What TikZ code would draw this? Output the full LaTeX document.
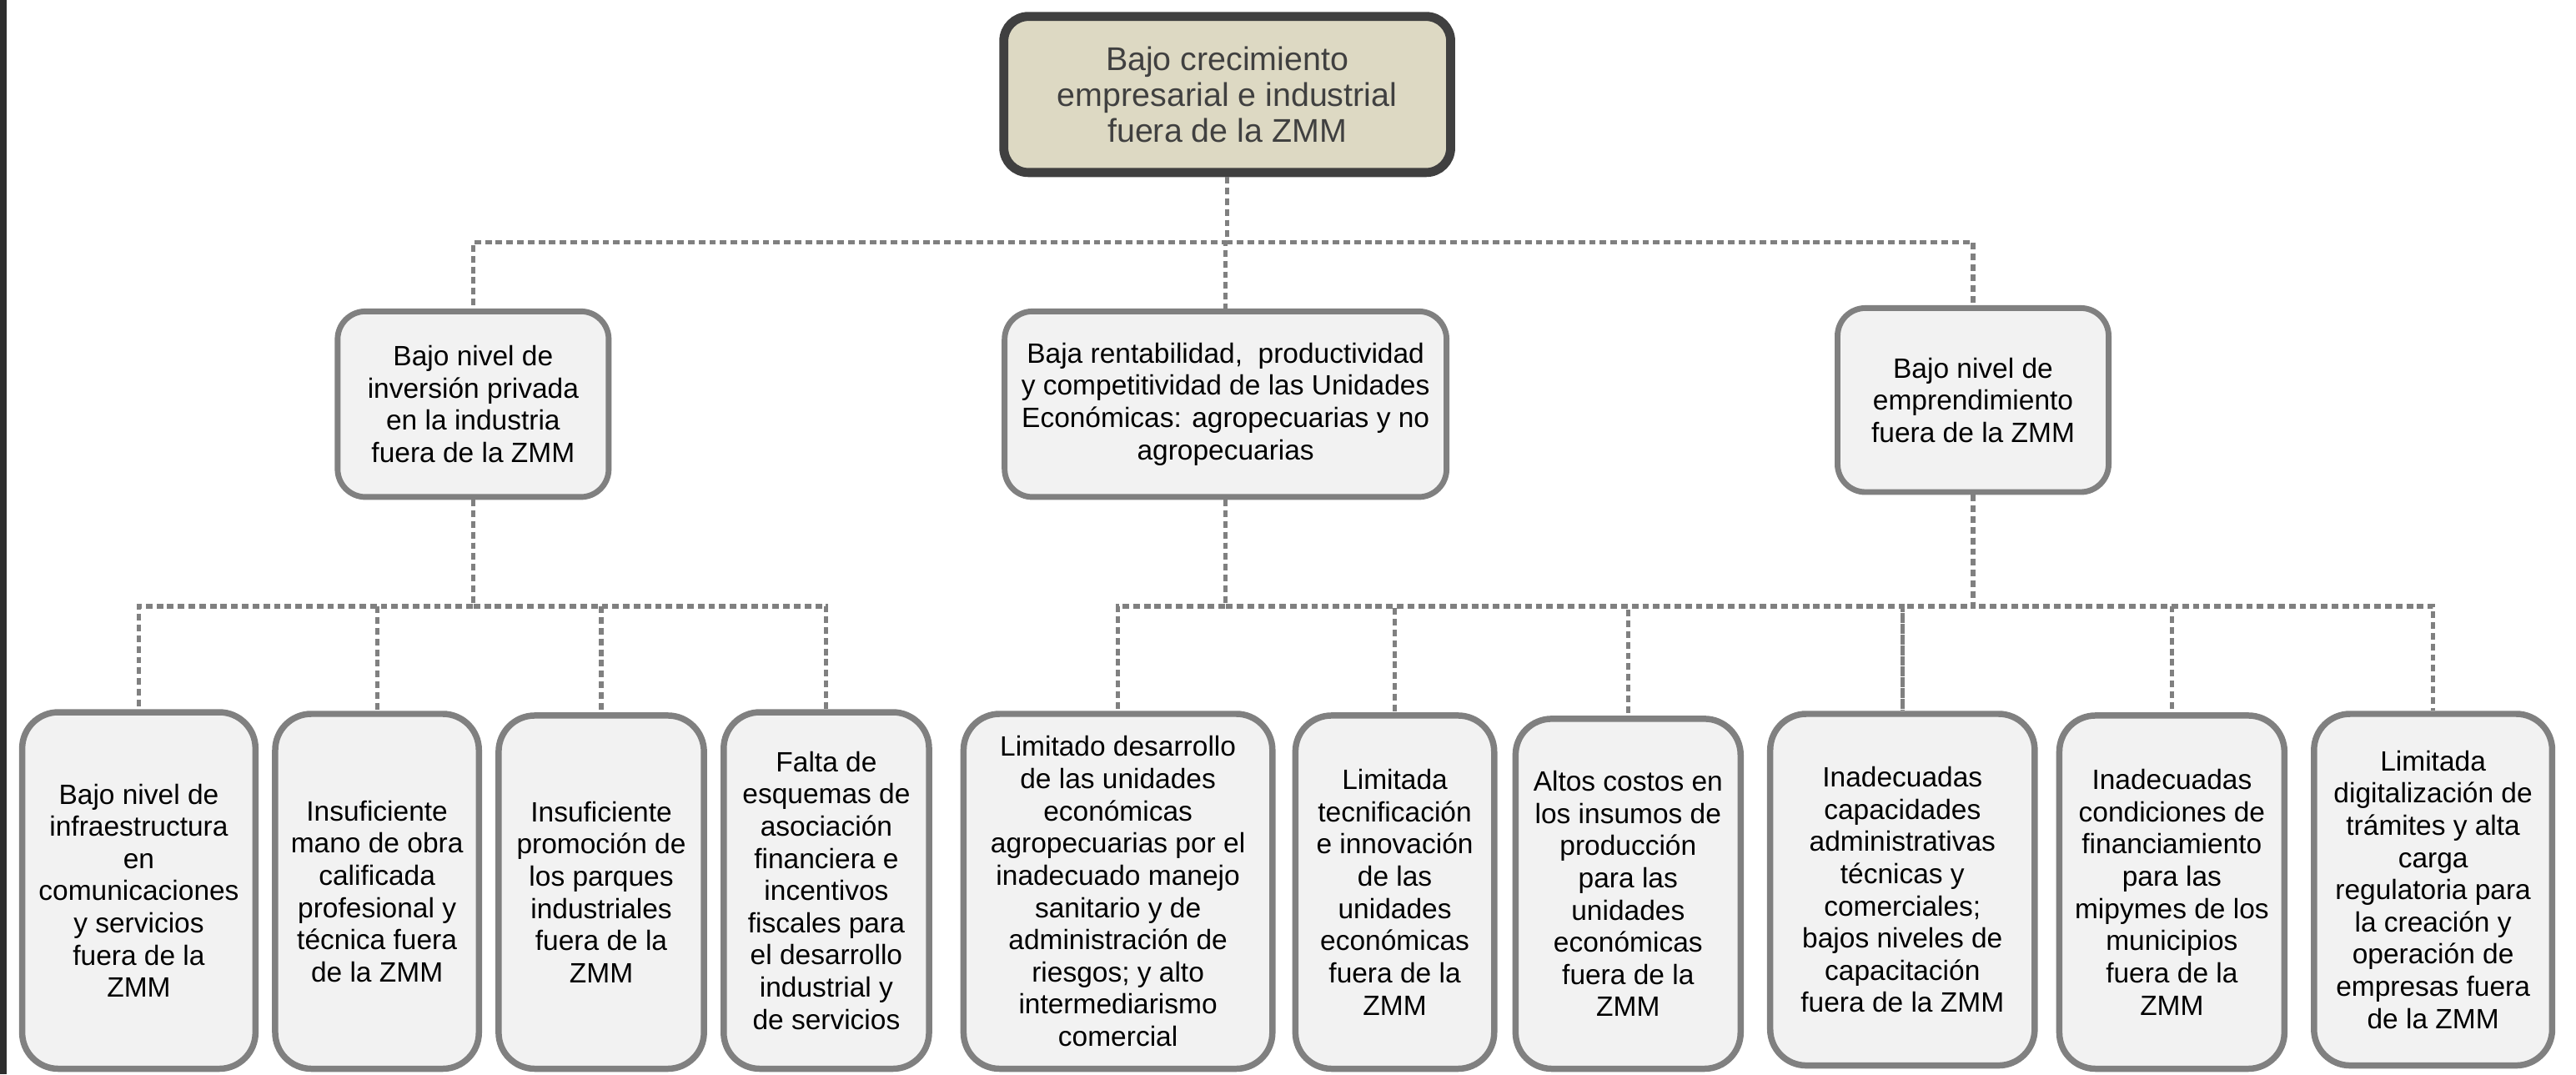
\documentclass[tikz,border=0pt]{standalone}
\usepackage{fontspec}
\setmainfont{Liberation Sans}
\definecolor{topfill}{HTML}{DDD9C3}
\definecolor{topdraw}{HTML}{404040}
\definecolor{boxfill}{HTML}{F2F2F2}
\definecolor{boxdraw}{HTML}{808080}
\definecolor{conncol}{HTML}{808080}
\definecolor{edgestrip}{HTML}{2E2E2E}
\begin{document}
\begin{tikzpicture}[x=1pt,y=1pt,
  topbox/.style={draw=topdraw, fill=topfill, line width=5.5pt, rounded corners=15pt,
    inner sep=0pt, align=center, text=topdraw,
    font=\fontsize{20}{22}\selectfont},
  midbox/.style={draw=boxdraw, fill=boxfill, line width=3.5pt, rounded corners=17pt,
    inner sep=0pt, align=center, text=black,
    font=\fontsize{17}{19.6}\selectfont},
  leafbox/.style={draw=boxdraw, fill=boxfill, line width=3.8pt, rounded corners=22pt,
    inner sep=0pt, align=center, text=black,
    font=\fontsize{17}{19.6}\selectfont},
  conn/.style={draw=conncol, line width=2.6pt, dash pattern=on 4pt off 2.5pt}
]
\useasboundingbox (0,0) rectangle (1568,-654);
\fill[white] (0,0) rectangle (1568,-654);
\fill[edgestrip] (0,0) rectangle (4,-654);

% top
\node[topbox, minimum width=272pt, minimum height=95pt] (top) at (747,-57.5)
  {Bajo crecimiento\\empresarial e industrial\\fuera de la ZMM};

% level 2
\node[midbox, minimum width=165pt, minimum height=113pt] (l2a) at (288,-246)
  {Bajo nivel de\\inversión privada\\en la industria\\fuera de la ZMM};
\node[midbox, minimum width=269pt, minimum height=113pt] (l2b) at (746,-246)
  {Baja rentabilidad,\ \ productividad\\y competitividad de las Unidades\\Económicas: agropecuarias y no\\agropecuarias};
\node[midbox, minimum width=165pt, minimum height=112pt] (l2c) at (1201,-243.5)
  {Bajo nivel de\\emprendimiento\\fuera de la ZMM};

% level 3
\node[leafbox, minimum width=142pt, minimum height=217pt] (c1) at (84.5,-542)
  {Bajo nivel de\\infraestructura\\en\\comunicaciones\\y servicios\\fuera de la\\ZMM};
\node[leafbox, minimum width=124pt, minimum height=216pt] (c2) at (229.5,-542.5)
  {Insuficiente\\mano de obra\\calificada\\profesional y\\técnica fuera\\de la ZMM};
\node[leafbox, minimum width=125pt, minimum height=215pt] (c3) at (366,-543)
  {Insuficiente\\promoción de\\los parques\\industriales\\fuera de la\\ZMM};
\node[leafbox, minimum width=125pt, minimum height=217pt] (c4) at (503,-542)
  {Falta de\\esquemas de\\asociación\\financiera e\\incentivos\\fiscales para\\el desarrollo\\industrial y\\de servicios};
\node[leafbox, minimum width=188pt, minimum height=216pt] (c5) at (680.5,-542.5)
  {Limitado desarrollo\\de las unidades\\económicas\\agropecuarias por el\\inadecuado manejo\\sanitario y de\\administración de\\riesgos; y alto\\intermediarismo\\comercial};
\node[leafbox, minimum width=121pt, minimum height=215pt] (c6) at (849,-543)
  {Limitada\\tecnificación\\e innovación\\de las\\unidades\\económicas\\fuera de la\\ZMM};
\node[leafbox, minimum width=137pt, minimum height=213pt] (c7) at (991,-544)
  {Altos costos en\\los insumos de\\producción\\para las\\unidades\\económicas\\fuera de la\\ZMM};
\node[leafbox, minimum width=161pt, minimum height=214pt] (c8) at (1158,-541.5)
  {Inadecuadas\\capacidades\\administrativas\\técnicas y\\comerciales;\\bajos niveles de\\capacitación\\fuera de la ZMM};
\node[leafbox, minimum width=137pt, minimum height=215pt] (c9) at (1322,-543)
  {Inadecuadas\\condiciones de\\financiamiento\\para las\\mipymes de los\\municipios\\fuera de la\\ZMM};
\node[leafbox, minimum width=145pt, minimum height=214pt] (c10) at (1481,-541.5)
  {Limitada\\digitalización de\\trámites y alta\\carga\\regulatoria para\\la creación y\\operación de\\empresas fuera\\de la ZMM};

% connectors
\coordinate (busA) at (0,-147.5);
\coordinate (busB) at (0,-369);
\foreach \c in {l2a,l2b,l2c}
  \draw[conn] (top.south) -- (top.south |- busA) -| (\c.north);
\foreach \c in {c1,c2,c3,c4}
  \draw[conn] (l2a.south) -- (l2a.south |- busB) -| (\c.north);
\foreach \c in {c5,c6,c7,c8}
  \draw[conn] (l2b.south) -- (l2b.south |- busB) -| (\c.north);
\foreach \c in {c8,c9,c10}
  \draw[conn] (l2c.south) -- (l2c.south |- busB) -| (\c.north);
\end{tikzpicture}
\end{document}
